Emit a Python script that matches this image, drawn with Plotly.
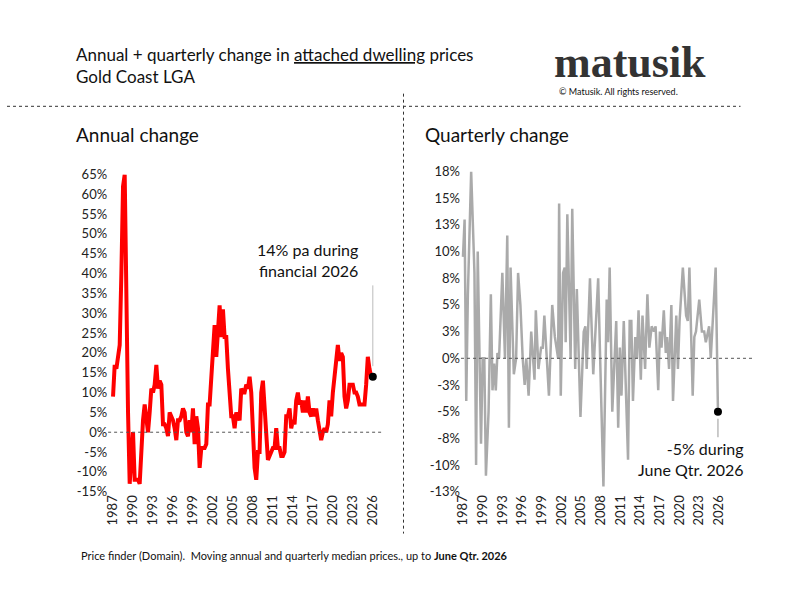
import plotly.graph_objects as go

# Annual change (moving annual median), quarterly from 1987 Q1
annual_start = 1987.0
annual_vals = [
    9, 17, 16, 19,      # 1987
    22, 40, 62, 65,     # 1988
    30, 5, -13, -5,     # 1989
    0, -12, -12, -12,   # 1990
    -13, -3, 3, 7,      # 1991
    4, 0, 5, 11,        # 1992
    10, 12, 17, 11,     # 1993
    13, 12, 2, 2,       # 1994
    1, -1, 5, 4,        # 1995
    3, 1, -2, 3,        # 1996
    3, 4, 6, 5,         # 1997
    0, -1, 3, 0,        # 1998
    6, -3, 4, 1,        # 1999
    -9, -4, -4, -4,     # 2000
    -3, 7, 7, 13,       # 2001
    20, 27, 19, 27,     # 2002
    32, 24, 31, 24,     # 2003
    24, 16, 8, 4,       # 2004
    4, 1, 5, 4,         # 2005
    3, 11, 10, 10,      # 2006
    12, 11, 14, 10,     # 2007
    0, -9, -12, -5,     # 2008
    -5, 10, 13, 5,      # 2009
    -3, -7, -6, -5,     # 2010
    -4, -4, 1, -4,      # 2011
    -4, -6, -6, -5,     # 2012
    4, 4, 6, 1,         # 2013
    3, 2, 8, 10,        # 2014
    7, 8, 5, 8,         # 2015
    5, 9, 5, 4,         # 2016
    6, 4, 6, 3,         # 2017
    0, -2, 0, 1,        # 2018
    0, 2, 8, 4,         # 2019
    10, 15, 18, 22,     # 2020
    18, 20, 19, 9,      # 2021
    6, 8, 12, 12,       # 2022
    12, 10, 10, 9,      # 2023
    7, 7, 7, 7,         # 2024
    12, 19, 16, 14,     # 2025
    14,                 # 2026
]
annual_x = [annual_start + 0.25 * i for i in range(len(annual_vals))]

# Quarterly change
quarter_x = [
    1987.0, 1987.25, 1987.5, 1987.75, 1988.25, 1988.75, 1989.0, 1989.25, 1989.75, 1990.0,
    1990.25, 1990.5, 1990.9, 1991.25, 1991.5, 1991.75, 1992.0, 1992.25, 1992.5, 1993.0,
    1993.4, 1993.75, 1994.0, 1994.25, 1994.75, 1995.1, 1995.4, 1995.75, 1996.1, 1996.4,
    1996.65, 1997.0, 1997.4, 1997.9, 1998.1, 1998.5, 1998.9, 1999.15, 1999.4, 2000.1,
    2000.6, 2001.0, 2001.5, 2001.65, 2001.9, 2002.25, 2002.5, 2002.65, 2002.9, 2003.4,
    2003.65, 2004.1, 2004.35, 2004.9, 2005.4, 2005.65, 2005.85, 2006.35, 2006.85, 2007.1,
    2007.6, 2007.9, 2008.4, 2008.9, 2009.1, 2009.35, 2009.75, 2010.35, 2010.65, 2010.9,
    2011.15, 2011.5, 2012.15, 2012.4, 2012.65, 2012.9, 2013.25, 2013.5, 2013.75, 2014.1,
    2014.35, 2014.75, 2015.1, 2015.4, 2015.75, 2016.1, 2016.35, 2016.75, 2017.0, 2017.25,
    2017.6, 2017.9, 2018.1, 2018.4, 2018.75, 2019.0, 2019.5, 2019.75, 2020.0, 2020.5,
    2021.0, 2021.25, 2021.5, 2022.0, 2022.25, 2022.5, 2023.0, 2023.4, 2023.75, 2024.0,
    2024.5, 2024.75, 2025.1, 2025.5, 2025.85,
]
quarter_vals = [
    9.5, 13, -4, 6, 17.5, 8, -10, 10, -8, 0,
    0, -11, -5, 6, -3, -0.5, -3, 0.5, 0, 8,
    0, 11.5, -6.5, 8.5, -1.5, 0, 8, 5, 0, -2.5,
    0, -3.5, 2.5, -2, 4.5, -1, 1, 1, 4, -3.5,
    5, 2, 0, 14.5, -3.5, 8, 8.5, 1.5, 13.5, 0,
    14, -1, 6.5, -5.5, 2.5, 3, -1, 7.5, -1.5, 1.5,
    7.5, 0, -12, 5.5, 1.5, 8.5, -5, 3.5, -6.5, 1,
    -3.5, 3.5, -9.5, 3.5, 3.5, -4, 2, 0, 4.5, -2,
    4, -1, 6, 1, 3, 2.5, 3, -3, 2.5, 1,
    4.5, 0.5, 2, -1, 5, -4, 4, -1, 3.5, 8.5,
    4, 3.5, 8.5, -3.5, 2, 2.5, 5.5, 2.5, 2.5, 1.5,
    3, 0, 3.5, 8.5, -5,
]

year_ticks = list(range(1987, 2027, 3))
left_ticks = list(range(-15, 70, 5))
right_ticks = [-12.5, -10, -7.5, -5, -2.5, 0, 2.5, 5, 7.5, 10, 12.5, 15, 17.5]
right_labels = ["-13%", "-10%", "-8%", "-5%", "-3%", "0%", "3%", "5%", "8%", "10%", "13%", "15%", "18%"]

W, H = 800, 599
FONT = "Lato"


def px_x(p):
    return p / W


def px_y(p):
    return 1 - p / H


fig = go.Figure()

fig.add_trace(go.Scatter(x=annual_x, y=annual_vals, mode="lines",
                         line=dict(color="#ff0000", width=4), xaxis="x", yaxis="y"))
fig.add_trace(go.Scatter(x=[annual_x[-1]], y=[annual_vals[-1]], mode="markers",
                         marker=dict(color="black", size=8), xaxis="x", yaxis="y"))
fig.add_trace(go.Scatter(x=quarter_x, y=quarter_vals, mode="lines",
                         line=dict(color="#aaaaaa", width=2.5), xaxis="x2", yaxis="y2"))
fig.add_trace(go.Scatter(x=[quarter_x[-1]], y=[quarter_vals[-1]], mode="markers",
                         marker=dict(color="black", size=8), xaxis="x2", yaxis="y2"))

axis_common = dict(showgrid=False, zeroline=False, showline=False, ticks="",
                   tickfont=dict(size=13, color="#222"))

fig.update_layout(
    width=W, height=H, margin=dict(l=0, r=0, t=0, b=0),
    paper_bgcolor="white", plot_bgcolor="white", showlegend=False,
    font=dict(family=FONT, color="#111"),
    xaxis=dict(domain=[px_x(102), px_x(380)], range=[1986.26, 2027.63],
               tickvals=year_ticks, tickangle=-90, anchor="y", **axis_common),
    yaxis=dict(domain=[px_y(497), px_y(171)], range=[-15, 65],
               tickvals=left_ticks, ticktext=[f"{v}%" for v in left_ticks],
               anchor="x", **axis_common),
    xaxis2=dict(domain=[px_x(458), px_x(752)], range=[1986.7, 2031.1],
                tickvals=year_ticks, tickangle=-90, anchor="y2", **axis_common),
    yaxis2=dict(domain=[px_y(497), px_y(168)], range=[-12.5, 17.5],
                tickvals=right_ticks, ticktext=right_labels, anchor="x2", **axis_common),
)

# zero lines
fig.add_shape(type="line", xref="x domain", yref="y", x0=0, x1=1, y0=0, y1=0,
              line=dict(color="#555", width=1, dash="dot"))
fig.add_shape(type="line", xref="x2 domain", yref="y2", x0=0, x1=1, y0=0, y1=0,
              line=dict(color="#555", width=1, dash="dot"))

# callout leaders
fig.add_shape(type="line", xref="x", yref="paper", x0=annual_x[-1], x1=annual_x[-1],
              y0=px_y(368), y1=px_y(285), line=dict(color="#bbb", width=1))
fig.add_shape(type="line", xref="x2", yref="paper", x0=quarter_x[-1], x1=quarter_x[-1],
              y0=px_y(422), y1=px_y(441), line=dict(color="#999", width=1))

# separators
fig.add_shape(type="line", xref="paper", yref="paper", x0=0, x1=px_x(740),
              y0=px_y(101), y1=px_y(101), line=dict(color="#333", width=1, dash="dot"))
fig.add_shape(type="line", xref="paper", yref="paper", x0=px_x(400), x1=px_x(400),
              y0=px_y(88), y1=px_y(540), line=dict(color="#333", width=1, dash="dot"))


def text(x, y, s, size, anchor="left", **kw):
    fig.add_annotation(xref="paper", yref="paper", x=px_x(x), y=px_y(y), text=s,
                       showarrow=False, xanchor=anchor, yanchor="middle", align=anchor,
                       font=dict(size=size, family=kw.get("family", FONT),
                                 color=kw.get("color", "#111")))


text(68, 48, "Annual + quarterly change in <u>attached dwelling</u> prices", 17)
text(68, 70, "Gold Coast LGA", 17)
text(550, 56, "<b>matusik</b>", 44, family="Liberation Serif", color="#333")
text(555, 86, "© Matusik. All rights reserved.", 9)
text(68, 130, "Annual change", 19)
text(420, 130, "Quarterly change", 19)
text(356, 259, "14% pa during<br>financial 2026", 16, anchor="right")
text(746, 463, "-5% during<br>June Qtr. 2026", 16, anchor="right")
text(73, 563, "Price finder (Domain).  Moving annual and quarterly median prices., up to <b>June Qtr. 2026</b>", 11)

fig.write_html("out.html", config={"displayModeBar": False},
               post_script="document.body.style.margin='0';document.body.style.overflow='hidden';")
